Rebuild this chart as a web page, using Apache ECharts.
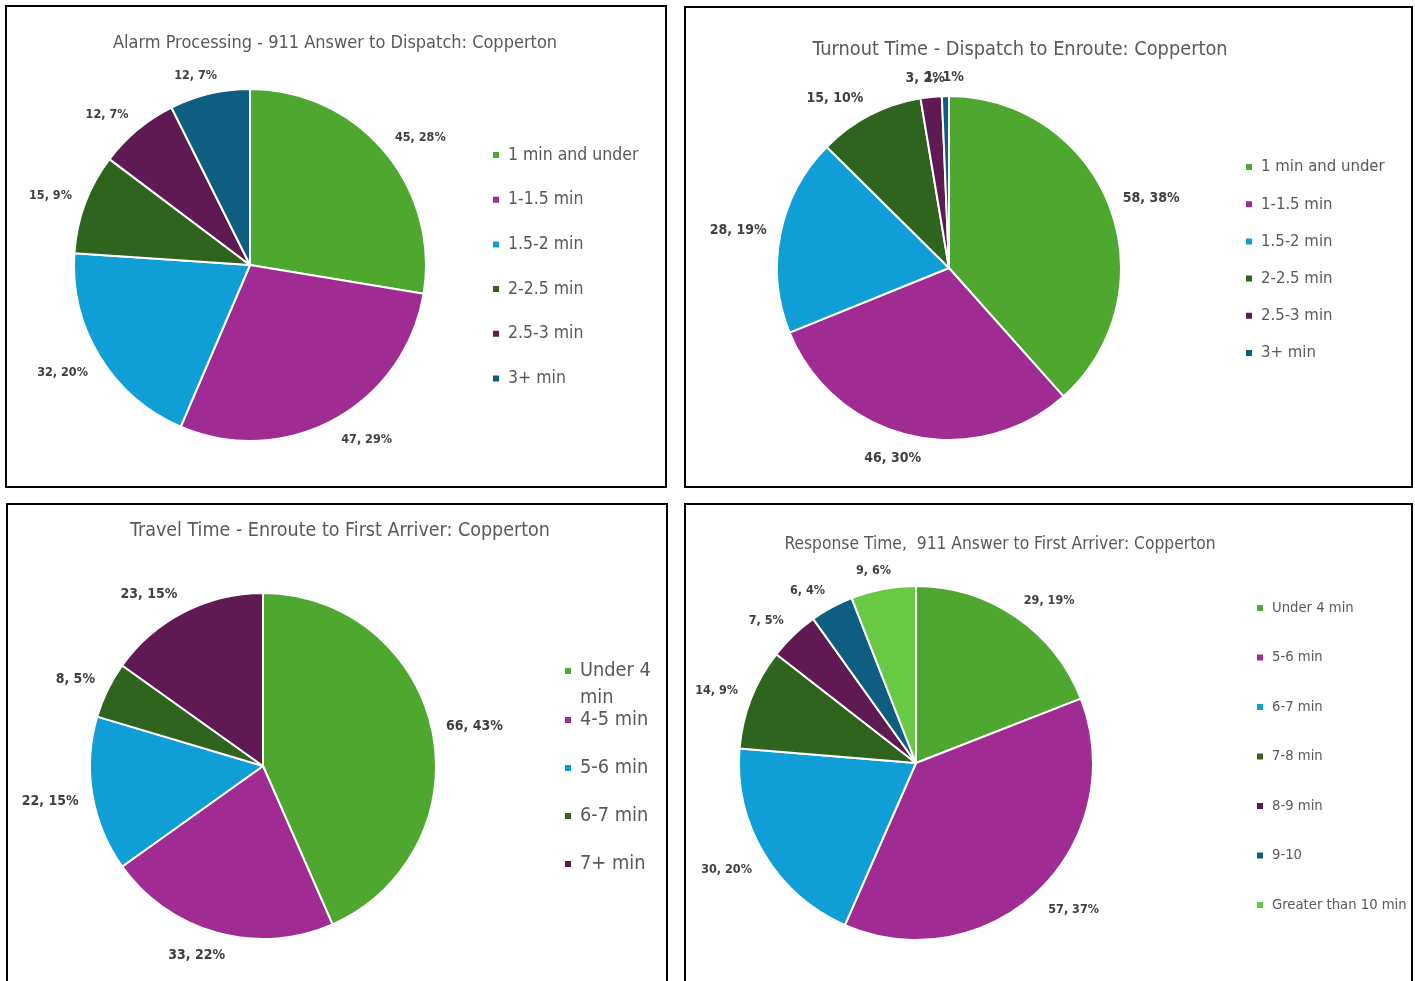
<!DOCTYPE html>
<html>
<head>
<meta charset="utf-8">
<script src="https://cdn.jsdelivr.net/npm/echarts@6/dist/echarts.min.js"></script>
<style>
html,body{margin:0;padding:0;background:#fff;}
#chart{position:absolute;left:0;top:0;width:1415px;height:981px;}
</style>
</head>
<body>
<div id="chart"></div>
<script>
// ---- Data ----
const alarmTitle = 'Alarm Processing - 911 Answer to Dispatch: Copperton';
const alarmCategories = ['1 min and under', '1-1.5 min', '1.5-2 min', '2-2.5 min', '2.5-3 min', '3+ min'];
const alarmValues = [45, 47, 32, 15, 12, 12];

const turnoutTitle = 'Turnout Time - Dispatch to Enroute: Copperton';
const turnoutCategories = ['1 min and under', '1-1.5 min', '1.5-2 min', '2-2.5 min', '2.5-3 min', '3+ min'];
const turnoutValues = [58, 46, 28, 15, 3, 1];

const travelTitle = 'Travel Time - Enroute to First Arriver: Copperton';
const travelCategories = ['Under 4 min', '4-5 min', '5-6 min', '6-7 min', '7+ min'];
const travelValues = [66, 33, 22, 8, 23];

const responseTitle = 'Response Time,  911 Answer to First Arriver: Copperton';
const responseCategories = ['Under 4 min', '5-6 min', '6-7 min', '7-8 min', '8-9 min', '9-10', 'Greater than 10 min'];
const responseValues = [29, 57, 30, 14, 7, 6, 9];

// ---- Styles ----
const GREEN = '#4EA72E', MAGENTA = '#A02B93', BLUE = '#0F9ED5', DKGREEN = '#2F641E',
      PURPLE = '#5F1A54', TEAL = '#0D5E80', LTGREEN = '#67C944';
const palette6 = [GREEN, MAGENTA, BLUE, DKGREEN, PURPLE, TEAL];
const palette5 = [GREEN, MAGENTA, BLUE, DKGREEN, PURPLE];
const palette7 = [GREEN, MAGENTA, BLUE, DKGREEN, PURPLE, TEAL, LTGREEN];
const FONT = "'DejaVu Sans Condensed', 'Liberation Sans Narrow', 'Liberation Sans', sans-serif";
const TITLE_COLOR = '#595959', LABEL_COLOR = '#404040';

function mkData(cats, vals, pal) {
  return cats.map((c, i) => ({ name: c, value: vals[i], itemStyle: { color: pal[i] } }));
}
// Excel-like "best fit" outside label placement: label box sits just outside the slice edge
function excelLabelLayout(vals, center, radius) {
  const total = vals.reduce((a, b) => a + b, 0);
  const mids = [];
  let acc = 0;
  vals.forEach(v => { mids.push((acc + v / 2) / total * Math.PI * 2); acc += v; });
  const gap = 14, k = 2.2;
  return function (params) {
    const a = mids[params.dataIndex];
    const ux = Math.sin(a), uy = -Math.cos(a);
    const w = params.labelRect.width, h = params.labelRect.height;
    const ex = center[0] + ux * (radius + gap);
    const ey = center[1] + uy * (radius + gap);
    const fx = Math.sign(ux) * Math.min(1, Math.abs(ux) * k);
    const fy = Math.sign(uy) * Math.min(1, Math.abs(uy) * k);
    return { x: ex + fx * w / 2, y: ey + fy * h / 2 + 2, align: 'center', verticalAlign: 'middle' };
  };
}
function mkPie(cats, vals, pal, center, radius, labelSize) {
  return {
    type: 'pie',
    center: center,
    radius: radius,
    startAngle: 90,
    clockwise: true,
    percentPrecision: 0,
    avoidLabelOverlap: false,
    animation: false,
    itemStyle: { borderColor: '#fff', borderWidth: 2 },
    label: {
      show: true, position: 'outside', formatter: '{c}, {d}%',
      fontFamily: FONT, fontWeight: 'bold', fontSize: labelSize, color: LABEL_COLOR
    },
    labelLine: { show: false, length: 12, length2: 0 },
    labelLayout: excelLabelLayout(vals, center, radius),
    emphasis: { disabled: true },
    data: mkData(cats, vals, pal)
  };
}
function mkLegend(cats, pal, left, top, fontSize, lineH, gap, extra) {
  return Object.assign({
    orient: 'vertical', left: left, top: top, padding: 0,
    itemWidth: 8, itemHeight: 8, itemGap: gap, icon: 'rect',
    selectedMode: false,
    textStyle: { fontFamily: FONT, fontSize: fontSize, color: TITLE_COLOR, lineHeight: lineH, padding: [0, 0, 0, 3] },
    data: cats.map((c, i) => ({ name: c, itemStyle: { color: pal[i] } }))
  }, extra || {});
}
function mkTitle(text, cx, top, size) {
  return { text: text, left: cx, top: top, textAlign: 'center',
    textStyle: { fontFamily: FONT, fontWeight: 'normal', fontSize: size, color: TITLE_COLOR } };
}
function border(x, y, w, h) {
  return { type: 'rect', shape: { x: x, y: y, width: w, height: h },
    style: { fill: 'none', stroke: '#000', lineWidth: 2 }, silent: true };
}

// marker square placed at the top of a tall box so it lines up with the first of two text lines
const TOP_SQUARE_ICON = 'path://M0,0L8,0L8,8L0,8ZM0,34.9L0.1,34.9L0.1,35L0,35Z';

const chart = echarts.init(document.getElementById('chart'), null, { renderer: 'canvas' });
chart.setOption({
  backgroundColor: '#fff',
  animation: false,
  title: [
    mkTitle(alarmTitle, 330, 29, 18),
    mkTitle(turnoutTitle, 1015, 35, 19.8),
    mkTitle(travelTitle, 335, 516, 19.5),
    mkTitle(responseTitle, 995, 531, 17.3)
  ],
  legend: [
    mkLegend(alarmCategories, palette6, 491, 145, 17.5, 20, 24.7),
    mkLegend(turnoutCategories, palette6, 1244, 157, 16.6, 20, 17.2),
    mkLegend(travelCategories.slice(0, 1), palette5.slice(0, 1), 563, 657.5, 19.8, 27, 10, {
      itemHeight: 35, icon: TOP_SQUARE_ICON,
      formatter: name => name.replace(/ (\S+)$/, '\n$1'),
      textStyle: { fontFamily: FONT, fontSize: 19.8, color: TITLE_COLOR, lineHeight: 27, padding: [0, 0, 0, 3] }
    }),
    mkLegend(travelCategories.slice(1), palette5.slice(1), 563, 708, 19.8, 24, 24),
    mkLegend(responseCategories, palette7, 1255, 599, 14.7, 18, 31.5)
  ],
  graphic: [
    border(6, 6, 660, 481),
    border(685, 7, 727, 480),
    border(7, 504, 660, 500),
    border(685, 504, 727, 500)
  ],
  series: [
    mkPie(alarmCategories, alarmValues, palette6, [250, 265], 176, 12.5),
    mkPie(turnoutCategories, turnoutValues, palette6, [949, 268], 172, 14),
    mkPie(travelCategories, travelValues, palette5, [263, 766], 173, 14),
    mkPie(responseCategories, responseValues, palette7, [916, 763], 177, 12.5)
  ]
});
</script>
</body>
</html>
